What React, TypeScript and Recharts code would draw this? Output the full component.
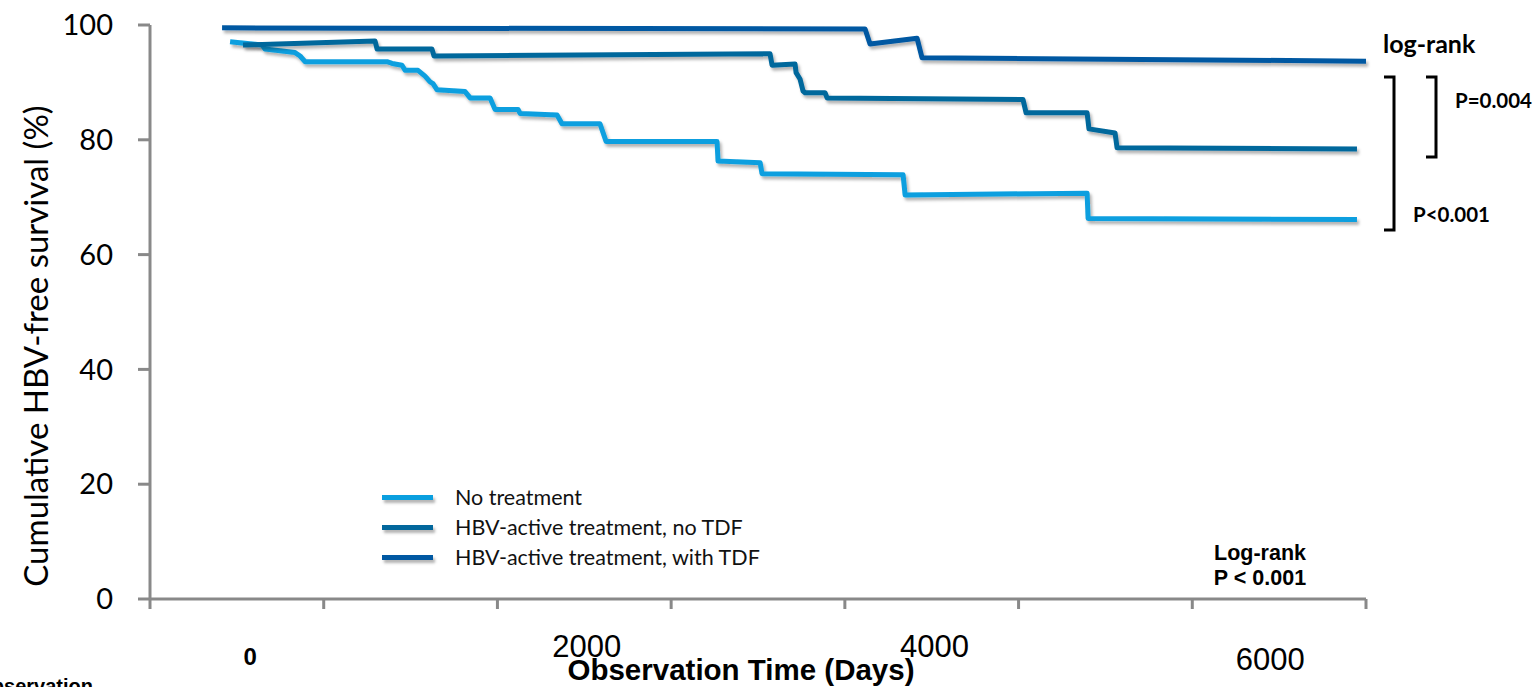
import React from 'react';
import { LineChart, Line, XAxis, YAxis, Legend } from 'recharts';

// days since start / cumulative HBV-free survival (%)
const noTreatmentDays = [47, 235, 252, 428, 458, 487, 968, 998, 1056, 1074, 1150, 1191, 1221, 1238, 1262, 1426, 1456, 1573, 1602, 1737, 1749, 1966, 1995, 2218, 2254, 2905, 2911, 3158, 3169, 3997, 4009, 5077, 5083, 6661];
const noTreatmentSurv = [97.1, 96.5, 95.8, 95.2, 94.6, 93.6, 93.6, 93.3, 93.0, 92.1, 92.1, 91.1, 90.1, 89.8, 88.7, 88.4, 87.3, 87.3, 85.3, 85.3, 84.6, 84.3, 82.8, 82.8, 79.7, 79.7, 76.3, 76.0, 74.1, 73.9, 70.4, 70.7, 66.3, 66.1];

const noTdfDays = [123, 898, 910, 1232, 1244, 3216, 3228, 3363, 3369, 3392, 3410, 3422, 3539, 3551, 4701, 4719, 5077, 5088, 5241, 5253, 6661];
const noTdfSurv = [96.5, 97.2, 95.8, 95.8, 94.6, 95.0, 93.0, 93.2, 91.7, 90.6, 88.5, 88.2, 88.2, 87.3, 87.0, 84.7, 84.7, 81.9, 81.2, 78.6, 78.4];

const withTdfDays = [0, 3774, 3803, 4079, 4108, 6714];
const withTdfSurv = [99.5, 99.3, 96.7, 97.7, 94.3, 93.7];

const seriesNames = ['No treatment', 'HBV-active treatment, no TDF', 'HBV-active treatment, with TDF'];
const seriesColors = ['#0a9fdf', '#02679c', '#0058a2'];

const yTicks = [0, 20, 40, 60, 80, 100];
const xLabelTicks = [0, 2000, 4000, 6000];

const toPoints = (days: number[], surv: number[]) => days.map((d, i) => ({ day: d, surv: surv[i] }));
const seriesData = [
  toPoints(noTreatmentDays, noTreatmentSurv),
  toPoints(noTdfDays, noTdfSurv),
  toPoints(withTdfDays, withTdfSurv),
];

const xMin = -423;
const xMax = 6714;
const xTickMarks = Array.from({ length: 8 }, (_, i) => xMin + (i * (xMax - xMin)) / 7);
const allXTicks = [...xTickMarks, ...xLabelTicks].sort((a, b) => a - b);

const axisGray = '#898989';

// the day labels sit loosely under the axis in the original slide
const labelStyle: Record<number, { dx: number; dy: number; size: number; bold: boolean }> = {
  0: { dx: 28, dy: 66, size: 24, bold: true },
  2000: { dx: 24, dy: 58, size: 31, bold: false },
  4000: { dx: 31, dy: 58, size: 31, bold: false },
  6000: { dx: 26, dy: 71, size: 31, bold: false },
};

// one axis: short tick marks at the grid steps, free-floating labels at the day values
const DayTick = (props: any) => {
  const { x, y, payload } = props;
  const s = labelStyle[payload.value];
  if (!s) {
    return <line x1={x} y1={y} x2={x} y2={y + 10} stroke={axisGray} strokeWidth={3} />;
  }
  return (
    <text
      x={x + s.dx}
      y={y + s.dy}
      textAnchor="middle"
      fontFamily="'Liberation Sans', Arial, sans-serif"
      fontSize={s.size}
      fontWeight={s.bold ? 'bold' : 'normal'}
      fill="#000"
    >
      {payload.value}
    </text>
  );
};

const renderLegend = (props: any) => {
  const items = [...(props.payload || [])].sort(
    (a: any, b: any) => seriesNames.indexOf(a.value) - seriesNames.indexOf(b.value)
  );
  return (
    <div style={{ fontFamily: 'Lato, sans-serif', fontSize: 21.5, color: '#111' }}>
      {items.map((entry: any) => (
        <div key={entry.value} style={{ display: 'flex', alignItems: 'center', height: 30 }}>
          <span
            style={{
              display: 'inline-block',
              width: 51,
              height: 5,
              background: entry.color,
              marginRight: 22,
              boxShadow: '2px 3px 3px rgba(0,0,0,0.3)',
            }}
          />
          {entry.value}
        </div>
      ))}
    </div>
  );
};

const App = () => {
  return (
    <div style={{ position: 'absolute', left: 0, top: 0, background: '#fff' }}>
      <LineChart width={1537} height={687} margin={{ top: 25, right: 171, left: 50, bottom: 0 }}>
        <defs>
          <filter id="lineShadow" x="-5%" y="-20%" width="110%" height="160%">
            <feDropShadow dx="2" dy="3" stdDeviation="1.6" floodColor="#000" floodOpacity="0.3" />
          </filter>
        </defs>
        <XAxis
          type="number"
          dataKey="day"
          domain={[xMin, xMax]}
          ticks={allXTicks}
          interval={0}
          height={88}
          tickSize={0}
          tickMargin={0}
          tickLine={false}
          axisLine={{ stroke: axisGray, strokeWidth: 3 }}
          tick={<DayTick />}
        />
        <YAxis
          type="number"
          domain={[0, 100]}
          ticks={yTicks}
          interval={0}
          width={100}
          tickSize={12}
          tickMargin={25}
          axisLine={{ stroke: axisGray, strokeWidth: 3 }}
          tickLine={{ stroke: axisGray, strokeWidth: 3 }}
          tick={{ fontFamily: 'Lato, sans-serif', fontSize: 29, fill: '#000' }}
        />
        <Legend
          layout="vertical"
          align="center"
          verticalAlign="middle"
          content={renderLegend}
          wrapperStyle={{ left: 382, top: 482, width: 'auto' }}
        />
        {seriesData.map((pts, i) => (
          <Line
            key={seriesNames[i]}
            data={pts}
            dataKey="surv"
            name={seriesNames[i]}
            type="linear"
            stroke={seriesColors[i]}
            strokeWidth={5}
            strokeLinejoin="round"
            dot={false}
            activeDot={false}
            filter="url(#lineShadow)"
            isAnimationActive={false}
          />
        ))}

        <text
          transform="rotate(-90, 48, 346)"
          x={48}
          y={346}
          textAnchor="middle"
          fontFamily="Lato, sans-serif"
          fontSize={33}
          fill="#000"
        >
          Cumulative HBV-free survival (%)
        </text>
        <text x={741} y={680} textAnchor="middle" fontFamily="'Liberation Sans', Arial, sans-serif" fontWeight="bold" fontSize={29.5} fill="#000">
          Observation Time (Days)
        </text>
        <text x={93} y={693} textAnchor="end" fontFamily="'Liberation Sans', Arial, sans-serif" fontWeight="bold" fontSize={20} fill="#000">
          Observation
        </text>
        <text x={1260} y={560} textAnchor="middle" fontFamily="'Liberation Sans', Arial, sans-serif" fontWeight="bold" fontSize={21.5} fill="#000">
          Log-rank
        </text>
        <text x={1260} y={585} textAnchor="middle" fontFamily="'Liberation Sans', Arial, sans-serif" fontWeight="bold" fontSize={21.5} fill="#000">
          P &lt; 0.001
        </text>

        <text x={1383} y={53} fontFamily="Lato, sans-serif" fontWeight="bold" fontSize={25} fill="#000">
          log-rank
        </text>
        <path d="M1384,77 H1394 V230 H1384" fill="none" stroke="#000" strokeWidth={3} />
        <path d="M1426,77 H1436 V157 H1426" fill="none" stroke="#000" strokeWidth={3} />
        <text x={1455} y={108} fontFamily="Lato, sans-serif" fontWeight="bold" fontSize={20.5} fill="#000">
          P=0.004
        </text>
        <text x={1413} y={222} fontFamily="Lato, sans-serif" fontWeight="bold" fontSize={20.5} fill="#000">
          P&lt;0.001
        </text>
      </LineChart>
    </div>
  );
};

export default App;
